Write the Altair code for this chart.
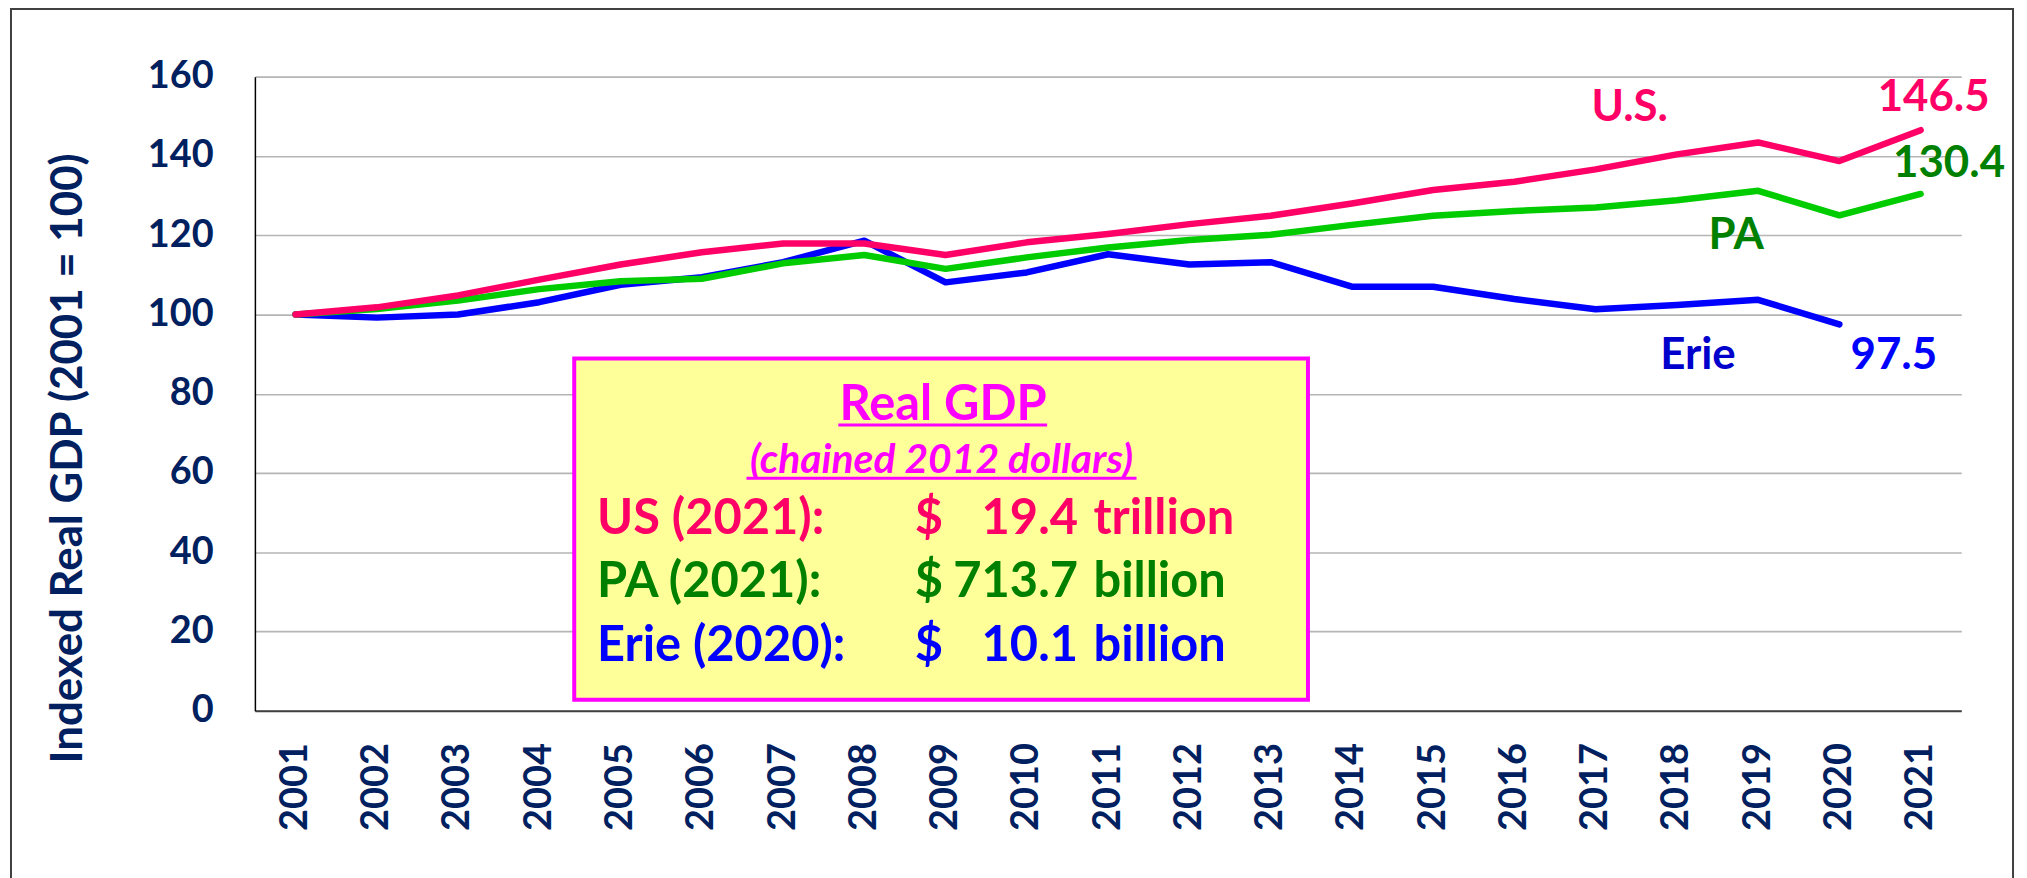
import altair as alt
import pandas as pd

# ---------------- data ----------------
years = list(range(2001, 2022))
us_values = [100, 101.8, 104.8, 108.8, 112.6, 115.7, 117.9, 117.9, 115.0, 118.2, 120.3,
             122.8, 124.9, 128.0, 131.4, 133.5, 136.6, 140.4, 143.4, 138.7, 146.5]
pa_values = [100, 101.4, 103.5, 106.4, 108.4, 109.0, 112.9, 115.0, 111.5, 114.4, 116.9,
             118.8, 120.1, 122.6, 124.9, 126.1, 127.0, 128.8, 131.2, 125.0, 130.4]
erie_values = [100, 99.2, 100.0, 103.1, 107.5, 109.4, 113.2, 118.6, 108.1, 110.6, 115.2,
               112.6, 113.2, 107.0, 107.0, 103.9, 101.3, 102.4, 103.7, 97.5, None]

series_names = ["Erie", "PA", "U.S."]
series_colors = ["#0000FF", "#00CC00", "#FF0066"]

# line-end labels
label_text = ["U.S.", "146.5", "130.4", "PA", "Erie", "97.5"]
label_year = [2017.42, 2021.16, 2021.35, 2018.73, 2018.26, 2020.67]
label_value = [152.2, 154.6, 137.9, 119.8, 89.4, 89.4]
label_color = ["#FF0066", "#FF0066", "#008000", "#008000", "#0000CC", "#0000FF"]

# info box
box_year = [2004.43]
box_year2 = [2013.46]
box_value = [88.9]
box_value2 = [2.8]

head_text = ["Real GDP", "(chained 2012 dollars)"]
head_year = [2008.97, 2008.95]
head_value = [73.4, 59.9]
head_size = [49, 41]
head_style = ["normal", "italic"]

underline_year = [2007.68, 2006.55]
underline_year2 = [2010.25, 2011.35]
underline_value = [72.1, 58.7]

row_label = ["US (2021):", "PA (2021):", "Erie (2020):"]
row_amount = ["19.4", "713.7", "10.1"]
row_unit = ["trillion", "billion", "billion"]
row_color = ["#FF0066", "#008000", "#0000FF"]
row_value = [44.5, 28.6, 12.6]
row_label_year = 2004.71
row_dollar_year = 2008.62
row_amount_year = 2010.63
row_unit_year = 2010.82

NAVY = "#002060"
FONT = "Lato"

# ---------------- frames ----------------
rows = []
for name, vals in zip(["U.S.", "PA", "Erie"], [us_values, pa_values, erie_values]):
    for y, v in zip(years, vals):
        if v is not None:
            rows.append({"series": name, "year": y, "value": v})
lines_df = pd.DataFrame(rows)

labels_df = pd.DataFrame({"text": label_text, "year": label_year,
                          "value": label_value, "color": label_color})
box_df = pd.DataFrame({"year": box_year, "year2": box_year2,
                       "value": box_value, "value2": box_value2})
ul_df = pd.DataFrame({"year": underline_year, "year2": underline_year2,
                      "value": underline_value})

rows_df = pd.DataFrame({
    "label": row_label, "amount": row_amount, "unit": row_unit,
    "color": row_color, "value": row_value,
    "ly": [row_label_year] * 3, "dy": [row_dollar_year] * 3,
    "ay": [row_amount_year] * 3, "uy": [row_unit_year] * 3,
    "dollar": ["$"] * 3,
})

# ---------------- scales/axes ----------------
x_scale = alt.Scale(domain=[2000.5, 2021.5], nice=False, zero=False)
y_scale = alt.Scale(domain=[0, 160], nice=False)

x_axis = alt.Axis(values=years, format="d", labelAngle=270, labelAlign="right",
                  labelBaseline="middle", labelFontSize=38, labelFont=FONT,
                  labelFontWeight="bold", labelColor=NAVY, labelPadding=32,
                  ticks=False, grid=False, domainColor="#404040", domainWidth=2,
                  title=None, labelOverlap=False, labelFlush=False)
y_axis = alt.Axis(values=list(range(0, 161, 20)), labelFontSize=38, labelFont=FONT,
                  labelFontWeight="bold", labelColor=NAVY, labelPadding=42,
                  ticks=False, grid=True, gridColor="#B5B5B5", gridWidth=1.6,
                  domainColor="#000000", domainWidth=1.5,
                  title="Indexed Real GDP (2001 = 100)", titleFont=FONT,
                  titleFontSize=44, titleFontWeight="bold", titleColor=NAVY,
                  titleAngle=270, titleAlign="center", titleBaseline="middle",
                  titleX=-187, titleY=383, labelFlush=False)


def X(field="year"):
    return alt.X(f"{field}:Q", scale=x_scale, axis=x_axis)


def Y(field="value"):
    return alt.Y(f"{field}:Q", scale=y_scale, axis=y_axis)


# ---------------- layers ----------------
frame = alt.Chart(pd.DataFrame({"a": [0]})).mark_rect(
    fill="transparent", stroke="#404040", strokeWidth=2
).encode(x=alt.value(-245), x2=alt.value(1766), y=alt.value(-68), y2=alt.value(830))

line_layers = []
for name, col in zip(series_names, series_colors):
    line_layers.append(
        alt.Chart(lines_df).transform_filter(alt.datum.series == name)
        .mark_line(color=col, strokeWidth=6.5, strokeCap="round", strokeJoin="round")
        .encode(x=X(), y=Y())
    )

labels = alt.Chart(labels_df).mark_text(
    font=FONT, fontSize=44, fontWeight="bold", align="center", baseline="middle"
).encode(x=X(), y=Y(), text="text:N", color=alt.Color("color:N", scale=None))

box = alt.Chart(box_df).mark_rect(fill="#FFFF99", stroke="#FF00FF", strokeWidth=4).encode(
    x=X(), x2="year2:Q", y=Y(), y2="value2:Q"
)

head_layers = []
for t, yr, v, s, st in zip(head_text, head_year, head_value, head_size, head_style):
    head_layers.append(
        alt.Chart(pd.DataFrame({"text": [t], "year": [yr], "value": [v]})).mark_text(
            font=FONT, fontSize=s, fontWeight="bold", fontStyle=st, color="#FF00FF",
            align="center", baseline="alphabetic"
        ).encode(x=X(), y=Y(), text="text:N")
    )

underline = alt.Chart(ul_df).mark_rule(color="#FF00FF", strokeWidth=3).encode(
    x=X(), x2="year2:Q", y=Y()
)

row_base = alt.Chart(rows_df)
row_labels = row_base.mark_text(font=FONT, fontSize=49, fontWeight="bold",
                                align="left", baseline="alphabetic").encode(
    x=X("ly"), y=Y(), text="label:N", color=alt.Color("color:N", scale=None))
row_dollar = row_base.mark_text(font=FONT, fontSize=49, fontWeight="bold",
                                align="left", baseline="alphabetic").encode(
    x=X("dy"), y=Y(), text="dollar:N", color=alt.Color("color:N", scale=None))
row_amount = row_base.mark_text(font=FONT, fontSize=49, fontWeight="bold",
                                align="right", baseline="alphabetic").encode(
    x=X("ay"), y=Y(), text="amount:N", color=alt.Color("color:N", scale=None))
row_unit = row_base.mark_text(font=FONT, fontSize=49, fontWeight="bold",
                              align="left", baseline="alphabetic").encode(
    x=X("uy"), y=Y(), text="unit:N", color=alt.Color("color:N", scale=None))

chart = alt.layer(
    frame, *line_layers, labels, box, *head_layers, underline,
    row_labels, row_dollar, row_amount, row_unit
).properties(
    width=1714, height=637,
    autosize=alt.AutoSizeParams(type="none"),
    padding={"left": 248, "top": 67, "right": 58, "bottom": 172},
    background="white",
).configure_view(strokeWidth=0)

chart.save("out.html", embed_options={"renderer": "svg", "actions": False})
